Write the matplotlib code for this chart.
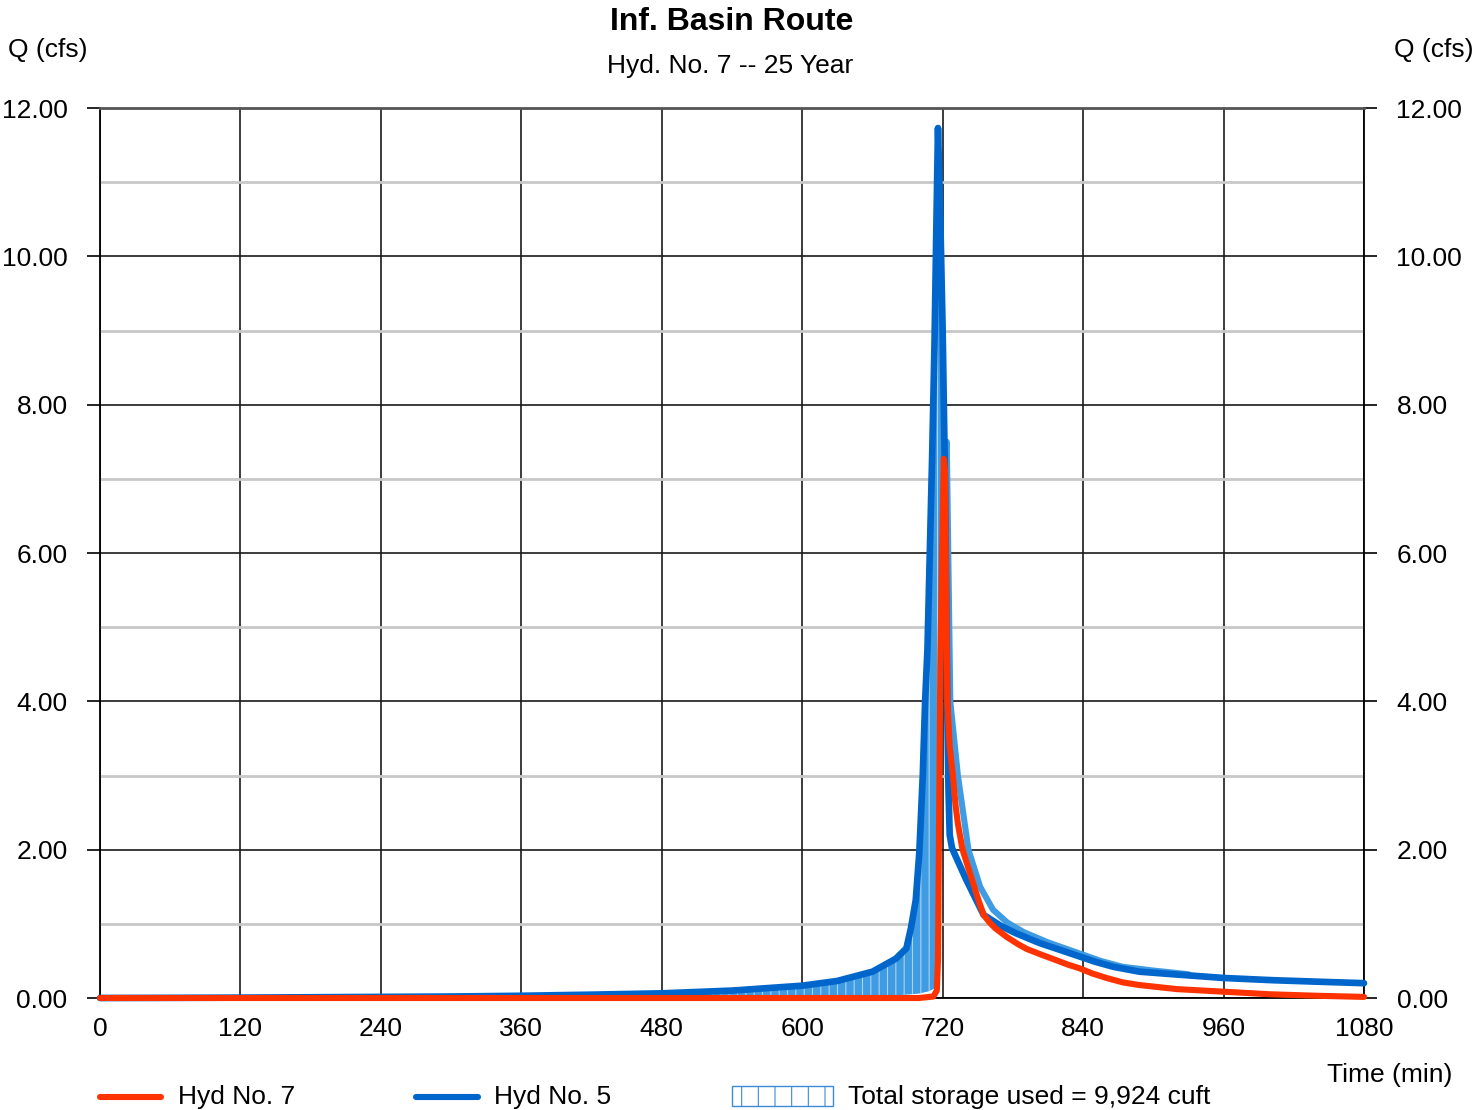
import numpy as np
import matplotlib
matplotlib.use("Agg")
import matplotlib.pyplot as plt
from matplotlib.lines import Line2D
from matplotlib.patches import Rectangle

plt.rcParams['font.family'] = ['Liberation Sans', 'DejaVu Sans']
plt.rcParams['hatch.linewidth'] = 0.8

# ---------------- data ----------------
title = "Inf. Basin Route"
subtitle = "Hyd. No. 7 -- 25 Year"

# Hyd No. 5 (inflow)
t_in = [0, 60, 120, 180, 240, 300, 360, 420, 480, 540, 600, 630, 660, 680, 689,
        693, 697, 700, 703, 705, 707, 709, 711, 713, 714.5, 716, 718, 720, 722,
        723, 724, 725, 726, 728, 740, 755, 770, 783, 803, 820, 837, 850, 866,
        888, 917, 960, 1002, 1040, 1080]
q_in = [0.0, 0.002, 0.005, 0.01, 0.015, 0.02, 0.03, 0.045, 0.063, 0.10, 0.166,
        0.23, 0.355, 0.53, 0.67, 0.95, 1.32, 1.95, 3.0, 4.0, 4.7, 6.0, 7.3, 8.8,
        10.3, 11.73, 10.5, 9.0, 7.0, 5.5, 3.8, 2.8, 2.2, 2.02, 1.6, 1.12, 0.97,
        0.87, 0.74, 0.65, 0.56, 0.49, 0.42, 0.355, 0.32, 0.27, 0.24, 0.22, 0.20]

# Hyd No. 7 (outflow)
t_out = [0, 700, 712, 715, 716, 717, 718, 719.5, 721, 722, 723, 724, 726, 729,
         731, 733, 737, 742, 747, 751, 755, 760, 765, 775, 785, 792, 805, 817,
         827, 837, 848, 860, 874, 888, 920, 960, 1000, 1040, 1080]
q_out = [0.0, 0.0, 0.02, 0.1, 0.5, 2.5, 4.5, 6.0, 7.27, 7.1, 5.5, 4.0, 3.4, 2.95,
         2.6, 2.35, 2.0, 1.75, 1.5, 1.3, 1.12, 1.02, 0.94, 0.82, 0.72, 0.66, 0.58,
         0.51, 0.45, 0.40, 0.33, 0.27, 0.21, 0.175, 0.12, 0.085, 0.05, 0.03, 0.015]

# storage area outline (upper edge after the peak) and lower edge before it
t_store_top = [721, 723.5, 726.5, 733, 742, 752, 763, 775, 789, 810, 837, 855,
               874, 900, 930]
q_store_top = [7.2, 7.5, 4.0, 3.0, 2.0, 1.5, 1.19, 1.02, 0.89, 0.75, 0.60, 0.50,
               0.42, 0.37, 0.32]
t_store_bot = [480, 600, 660, 680, 700, 708, 712, 714]
q_store_bot = [0.0, 0.005, 0.02, 0.035, 0.06, 0.09, 0.12, 0.15]

storage_label = "Total storage used = 9,924 cuft"
series_labels = ["Hyd No. 7", "Hyd No. 5"]

x_ticks = [0, 120, 240, 360, 480, 600, 720, 840, 960, 1080]
x_labels = ["0", "120", "240", "360", "480", "600", "720", "840", "960", "1080"]
y_ticks = [0, 2, 4, 6, 8, 10, 12]
y_labels = ["0.00", "2.00", "4.00", "6.00", "8.00", "10.00", "12.00"]
y_minor = [1, 3, 5, 7, 9, 11]

# ---------------- style ----------------
RED = '#ff3300'
BLUE = '#0066cc'
LBLUE = '#3f9be2'
FS = 19

W, H = 1475, 1110
fig = plt.figure(figsize=(W / 100, H / 100), dpi=100)
ax = fig.add_axes([100 / W, 1 - 998 / H, 1264 / W, 890 / H])

ax.set_xlim(0, 1080)
ax.set_ylim(0, 12)

# storage fill polygon: inflow rising limb, back down the outflow rising limb and lower edge
t_in_a = np.array(t_in)
q_in_a = np.array(q_in)
t_out_a = np.array(t_out)
q_out_a = np.array(q_out)
m_in = (t_in_a >= 480) & (t_in_a <= 720)
m_out = (t_out_a >= 715) & (t_out_a <= 721)
poly_t = np.concatenate([t_in_a[m_in], t_out_a[m_out][::-1], np.array(t_store_bot)[::-1]])
poly_q = np.concatenate([q_in_a[m_in], q_out_a[m_out][::-1], np.array(q_store_bot)[::-1]])
ax.fill(poly_t, poly_q, facecolor=LBLUE, edgecolor='#a9d3f3', linewidth=0,
        hatch='||', zorder=2)

ax.plot(t_store_top, q_store_top, color=LBLUE, lw=4.4, zorder=3,
        solid_capstyle='round', solid_joinstyle='round', clip_on=False)
ax.plot(t_in, q_in, color=BLUE, lw=4.8, zorder=4,
        solid_capstyle='round', solid_joinstyle='round', clip_on=False)
ax.plot(t_out, q_out, color=RED, lw=4.4, zorder=5,
        solid_capstyle='round', solid_joinstyle='round', clip_on=False)

# grid
ax.set_xticks(x_ticks)
ax.set_xticklabels(x_labels)
ax.set_yticks(y_ticks)
ax.set_yticklabels(y_labels)
ax.set_yticks(y_minor, minor=True)
ax.grid(True, which='major', color='#1a1a1a', lw=1.2, zorder=1)
ax.grid(True, which='minor', axis='y', color='#c8c8c8', lw=2.0, zorder=1)
ax.set_axisbelow(True)

for s in ['left', 'bottom', 'right']:
    ax.spines[s].set_color('black')
    ax.spines[s].set_linewidth(1.3)
ax.spines['top'].set_color('#555555')
ax.spines['top'].set_linewidth(2.0)

ax.tick_params(axis='y', which='major', direction='out', length=9.4, width=1.2,
               pad=14, labelsize=FS, left=True, right=True,
               labelleft=True, labelright=True)
ax.tick_params(axis='x', which='major', length=0, pad=14, labelsize=FS)
ax.tick_params(which='minor', length=0)

# titles and axis labels
fig.text(731.5 / W, 1 - 22 / H, title, ha='center', va='center',
         fontsize=23, fontweight='bold')
fig.text(730.5 / W, 1 - 66 / H, subtitle, ha='center', va='center', fontsize=FS)
fig.text(8 / W, 1 - 50 / H, "Q (cfs)", ha='left', va='center', fontsize=FS)
fig.text(1473 / W, 1 - 50 / H, "Q (cfs)", ha='right', va='center', fontsize=FS)
fig.text(1452 / W, 1 - 1075 / H, "Time (min)", ha='right', va='center', fontsize=FS)

# legend (manual)
ly = 1 - 1097 / H
fig.add_artist(Line2D([100 / W, 161 / W], [ly, ly], transform=fig.transFigure,
                      color=RED, lw=4.4, solid_capstyle='round'))
fig.text(178 / W, ly, series_labels[0], ha='left', va='center', fontsize=FS)
fig.add_artist(Line2D([416 / W, 478 / W], [ly, ly], transform=fig.transFigure,
                      color=BLUE, lw=4.4, solid_capstyle='round'))
fig.text(494 / W, ly, series_labels[1], ha='left', va='center', fontsize=FS)
fig.add_artist(Rectangle((732 / W, 1 - 1106 / H), 101 / W, 20 / H,
                         transform=fig.transFigure, facecolor='white',
                         edgecolor='#3a8ad6', lw=1.0, hatch='|'))
fig.text(848 / W, ly, storage_label, ha='left', va='center', fontsize=FS)

fig.savefig("out.png", dpi=100)
